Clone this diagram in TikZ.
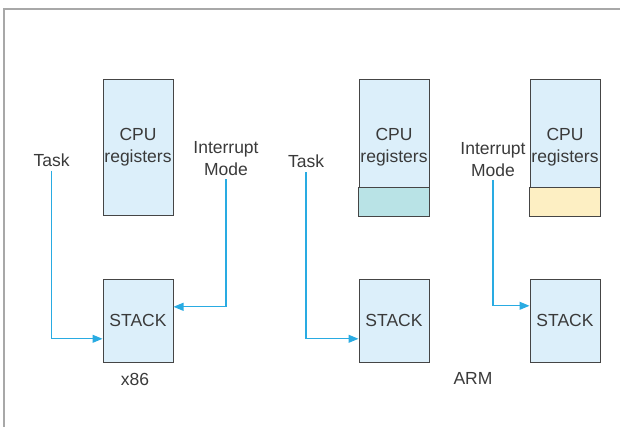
\documentclass[tikz,border=0pt]{standalone}
\usepackage{fontspec}
\setmainfont{Liberation Sans}
\usetikzlibrary{arrows.meta,calc}
\definecolor{boxfill}{HTML}{DCEFFA}
\definecolor{boxline}{HTML}{454545}
\definecolor{arrowc}{HTML}{29ABE2}
\definecolor{txt}{HTML}{3A3A3A}
\definecolor{tealfill}{HTML}{B9E3E6}
\definecolor{yellowfill}{HTML}{FDEFC3}
\definecolor{framec}{HTML}{A8A8A8}
\begin{document}
\begin{tikzpicture}[x=1pt,y=-1pt,
  every node/.style={text=txt,font=\fontsize{17.5}{22}\selectfont},
  regbox/.style={draw=boxline,fill=boxfill,line width=1pt,minimum width=70pt,minimum height=136.5pt,align=center,inner sep=0pt},
  stackbox/.style={draw=boxline,fill=boxfill,line width=1pt,minimum width=70pt,minimum height=83pt,inner sep=0pt},
  lbl/.style={align=center,inner sep=1pt},
  conn/.style={draw=arrowc,line width=1.1pt,-{Triangle[length=10pt,width=8pt]}}]
\useasboundingbox (0,0) rectangle (620,427);
\draw[framec,line width=1.4pt] (620,9) -- (4,9) -- (4,427);
% x86
\node[regbox] (cpu0) at (138,147.5) {CPU\\registers};
\node[stackbox] (stack0) at (138,320.8) {STACK};
\node[lbl] (task0) at (51.5,160) {Task};
\node[lbl] (int0) at (226,159) {Interrupt\\Mode};
\node[lbl] (x86) at (135,379) {x86};
\draw[conn] ([yshift=-3pt]task0.south) |- ([yshift=-18pt]stack0.west);
\draw[conn] ([yshift=-2pt]int0.south) |- ([yshift=14pt]stack0.east);
% ARM
\node[regbox] (cpu1) at (394,147.5) {CPU\\registers};
\draw[boxline,fill=tealfill,line width=1pt] (cpu1.south west) rectangle ([yshift=29pt]cpu1.south east);
\node[regbox] (cpu2) at (565,147.5) {CPU\\registers};
\draw[boxline,fill=yellowfill,line width=1pt] (cpu2.south west) rectangle ([yshift=29pt]cpu2.south east);
\node[stackbox] (stack1) at (394,320.8) {STACK};
\node[stackbox] (stack2) at (565,320.8) {STACK};
\node[lbl] (task1) at (306,161.5) {Task};
\node[lbl] (int1) at (493,159.5) {Interrupt\\Mode};
\node[lbl] (arm) at (473,378.5) {ARM};
\draw[conn] ([yshift=-3pt]task1.south) |- ([yshift=-18pt]stack1.west);
\draw[conn] ([yshift=-2pt]int1.south) |- ([yshift=15pt]stack2.west);
\end{tikzpicture}
\end{document}
